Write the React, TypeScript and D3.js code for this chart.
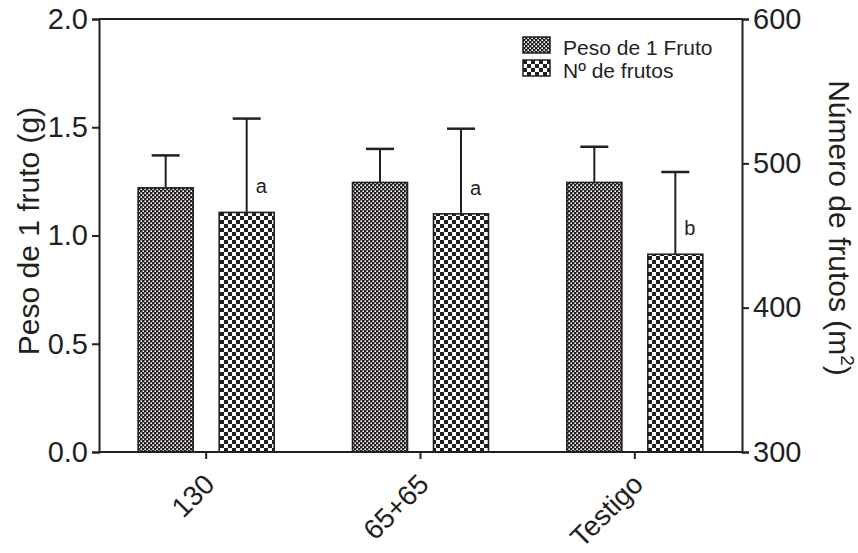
import * as d3 from "d3";
import { useEffect, useRef } from "react";

const categories = ["130", "65+65", "Testigo"];
const series = ["Peso de 1 Fruto", "Nº de frutos"];
// peso de 1 fruto (g), left axis
const pesoMean = [1.22, 1.245, 1.245];
const pesoSd = [0.15, 0.155, 0.165];
// número de frutos (m2), right axis
const frutosMean = [466, 465, 437];
const frutosSd = [65, 59, 57];
const letters = ["a", "a", "b"];
const leftTicks = [0, 0.5, 1.0, 1.5, 2.0];
const rightTicks = [300, 400, 500, 600];

const W = 858;
const H = 553;
const ink = "#231f20";
const font = "'Liberation Sans', Arial, sans-serif";

export default function App() {
  const svgRef = useRef<SVGSVGElement>(null);

  useEffect(() => {
    document.body.style.margin = "0";
    const margin = { top: 19, right: 116, bottom: 101, left: 99 };
    const svg = d3.select(svgRef.current);
    svg.selectAll("*").remove();

    const defs = svg.append("defs");
    // fine pattern (peso)
    const p1 = defs.append("pattern").attr("id", "fine")
      .attr("width", 4).attr("height", 4).attr("patternUnits", "userSpaceOnUse");
    p1.append("rect").attr("width", 4).attr("height", 4).attr("fill", ink);
    p1.append("rect").attr("x", 0.4).attr("y", 0.4).attr("width", 1.6).attr("height", 1.6).attr("fill", "#fff");
    p1.append("rect").attr("x", 2.4).attr("y", 2.4).attr("width", 1.6).attr("height", 1.6).attr("fill", "#fff");
    // checkerboard (frutos)
    const p2 = defs.append("pattern").attr("id", "check")
      .attr("width", 8).attr("height", 8).attr("patternUnits", "userSpaceOnUse");
    p2.append("rect").attr("width", 8).attr("height", 8).attr("fill", "#fff");
    p2.append("rect").attr("width", 4).attr("height", 4).attr("fill", ink);
    p2.append("rect").attr("x", 4).attr("y", 4).attr("width", 4).attr("height", 4).attr("fill", ink);
    const fills = ["url(#fine)", "url(#check)"];

    const x0 = margin.left;
    const x1 = W - margin.right;
    const yTop = margin.top;
    const yBot = H - margin.bottom;

    const x = d3.scaleBand().domain(categories).range([x0, x1]).padding(0);
    const inner = d3.scaleBand().domain(series).range([0, 136]).paddingInner(26 / 81).paddingOuter(0);
    const yL = d3.scaleLinear().domain([0, 2]).range([yBot, yTop]);
    const yR = d3.scaleLinear().domain([300, 600]).range([yBot, yTop]);

    const g = svg.append("g");

    // bars
    categories.forEach((c, i) => {
      const cx = (x(c) as number) + x.bandwidth() / 2;
      const start = cx - 68;
      const bars = [
        { s: series[0], top: yL(pesoMean[i]), err: yL(pesoMean[i] + pesoSd[i]) },
        { s: series[1], top: yR(frutosMean[i]), err: yR(frutosMean[i] + frutosSd[i]) },
      ];
      bars.forEach((b, j) => {
        const bx = start + (inner(b.s) as number);
        const bw = inner.bandwidth();
        const mx = bx + bw / 2;
        g.append("line").attr("x1", mx).attr("x2", mx).attr("y1", b.top).attr("y2", b.err)
          .attr("stroke", ink).attr("stroke-width", 2);
        g.append("line").attr("x1", mx - 14).attr("x2", mx + 14).attr("y1", b.err).attr("y2", b.err)
          .attr("stroke", ink).attr("stroke-width", 2.5);
        g.append("rect").attr("x", bx).attr("y", b.top).attr("width", bw).attr("height", yBot - b.top)
          .attr("fill", fills[j]).attr("stroke", ink).attr("stroke-width", 1.6);
        if (j === 1) {
          g.append("text").attr("x", mx + 9).attr("y", b.top - 19)
            .attr("font-family", font).attr("font-size", 20).attr("fill", ink)
            .text(letters[i]);
        }
      });
    });

    // frame / axes
    const axisStroke = 2;
    g.append("line").attr("x1", x0).attr("x2", x1).attr("y1", yTop).attr("y2", yTop)
      .attr("stroke", ink).attr("stroke-width", axisStroke);
    g.append("line").attr("x1", x0).attr("x2", x1).attr("y1", yBot).attr("y2", yBot)
      .attr("stroke", ink).attr("stroke-width", axisStroke);

    const left = g.append("g").attr("transform", `translate(${x0},0)`)
      .call(d3.axisLeft(yL).tickValues(leftTicks).tickFormat(d3.format(".1f")).tickSize(7).tickPadding(4));
    const right = g.append("g").attr("transform", `translate(${x1},0)`)
      .call(d3.axisRight(yR).tickValues(rightTicks).tickSize(7).tickPadding(4));
    const bottom = g.append("g").attr("transform", `translate(0,${yBot})`)
      .call(d3.axisBottom(x).tickSize(7).tickFormat(() => ""));

    [left, right, bottom].forEach((a) => {
      a.select(".domain").attr("stroke", ink).attr("stroke-width", axisStroke);
      a.selectAll(".tick line").attr("stroke", ink).attr("stroke-width", axisStroke);
      a.selectAll("text").attr("font-family", font).attr("font-size", 29).attr("fill", ink);
    });
    bottom.select(".domain").remove();

    // rotated category labels
    categories.forEach((c) => {
      const cx = (x(c) as number) + x.bandwidth() / 2;
      g.append("text")
        .attr("transform", `translate(${cx + 10},${yBot + 34}) rotate(-45)`)
        .attr("text-anchor", "end")
        .attr("font-family", font).attr("font-size", 28).attr("fill", ink)
        .text(c);
    });

    // axis titles
    g.append("text")
      .attr("transform", `translate(${39},${231}) rotate(-90)`)
      .attr("text-anchor", "middle")
      .attr("font-family", font).attr("font-size", 30).attr("fill", ink)
      .text("Peso de 1 fruto (g)");
    const rt = g.append("text")
      .attr("transform", `translate(${829},${228}) rotate(90)`)
      .attr("text-anchor", "middle")
      .attr("font-family", font).attr("font-size", 30).attr("fill", ink);
    rt.append("tspan").text("Número de frutos (m");
    rt.append("tspan").attr("font-size", 19).attr("dy", -12).text("2");
    rt.append("tspan").attr("dy", 12).text(")");

    // legend
    const leg = g.append("g").attr("transform", "translate(523,37)");
    series.forEach((s, i) => {
      const row = leg.append("g").attr("transform", `translate(0,${i * 23})`);
      row.append("rect").attr("width", 27).attr("height", 16).attr("fill", fills[i])
        .attr("stroke", ink).attr("stroke-width", 1.5);
      row.append("text").attr("x", 40).attr("y", 17.5)
        .attr("font-family", font).attr("font-size", 21).attr("fill", ink)
        .text(s);
    });
  }, []);

  return <svg ref={svgRef} width={W} height={H} style={{ display: "block", background: "#fff" }} />;
}
